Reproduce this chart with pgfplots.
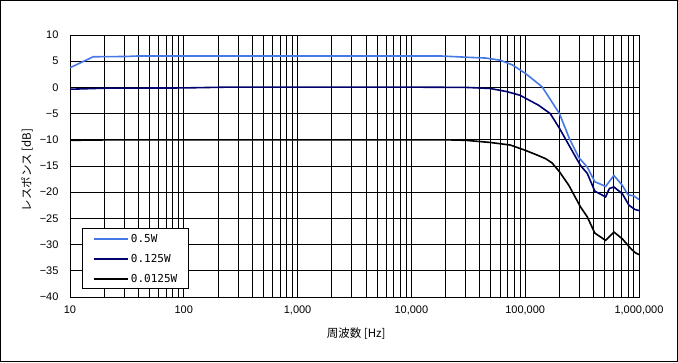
\documentclass[border=0pt]{standalone}
\usepackage{pgfplots}
\pgfplotsset{compat=1.18}
\usepackage{fontspec}
\setmainfont{Liberation Sans}
\newfontfamily\jp{Noto Sans CJK JP}
\newfontfamily\lgmono{DejaVu Sans Mono}
\definecolor{c1}{RGB}{70,120,230}
\definecolor{c2}{RGB}{0,0,110}
\begin{document}
\begin{tikzpicture}
\useasboundingbox (0pt,0pt) rectangle (678pt,362pt);
\draw[line width=1pt] (0.5pt,0.5pt) rectangle (677.5pt,361.5pt);
\begin{axis}[
 at={(70pt,65pt)}, anchor=south west,
 scale only axis, width=569pt, height=262pt,
 xmode=log, log basis x=10, xmin=10, xmax=1000000,
 ymin=-40, ymax=10,
 xtick={10,100,1000,10000,100000,1000000},
 minor xtick={20,30,40,50,60,70,80,90,
   200,300,400,500,600,700,800,900,
   2000,3000,4000,5000,6000,7000,8000,9000,
   20000,30000,40000,50000,60000,70000,80000,90000,
   200000,300000,400000,500000,600000,700000,800000,900000},
 xticklabels={10,100,{1,000},{10,000},{100,000},{1,000,000}},
 ytick={-40,-35,...,10},
 yticklabels={−40,−35,−30,−25,−20,−15,−10,−5,0,5,10},
 grid=both,
 major grid style={black, line width=0.9pt},
 minor grid style={black, line width=0.9pt},
 tick style={draw=none},
 axis line style={black, line width=0.9pt},
 ticklabel style={font=\fontsize{11}{13}\selectfont},
 xticklabel style={yshift=-5pt},
 yticklabel style={xshift=-8pt},
 xlabel={\jp 周波数 [Hz]}, ylabel={\jp レスポンス [dB]},
 label style={font=\fontsize{11.5}{13}\selectfont},
 xlabel style={at={(axis description cs:0.503,-0.141)}, anchor=center},
 ylabel style={at={(axis description cs:-0.0756,0.485)}, anchor=center},
 legend style={at={(axis description cs:0.0206,0.0294)}, anchor=south west,
   draw=black, fill=white, line width=0.9pt,
   font=\lgmono\fontsize{11}{13}\selectfont,
   inner xsep=11pt, inner ysep=6pt,
   nodes={inner sep=0pt, text height=8pt, text depth=0pt},
   row sep=12pt,
   /tikz/every odd column/.append style={column sep=2pt}},
 legend cell align=left,
 legend image code/.code={\path (-7pt,0pt) -- (27pt,0pt); \draw[#1,line width=2pt] (0pt,0pt) -- (27pt,0pt);},
]
\addplot[c1, line width=1.6pt] coordinates {
(10,3.75) (16,5.85) (31,5.9) (40,6.0) (1000,6.0) (10000,6.0) (18000,6.0)
(31000,5.75) (45000,5.6) (60000,5.2) (77000,4.3) (100000,2.7) (141000,0.1)
(200000,-5.0) (245000,-9.8) (296000,-13.4) (351000,-15.2) (409000,-18.0)
(509000,-18.9) (602000,-16.8) (714000,-18.7) (800000,-20.5) (900000,-20.7)
(1000000,-21.4)};
\addlegendentry{0.5W}
\addplot[c2, line width=1.6pt] coordinates {
(10,-0.35) (20,-0.15) (100,-0.1) (240,0.05) (10000,0.05) (30000,0.0)
(49000,-0.2) (69000,-0.8) (90000,-1.5) (131000,-3.4) (166000,-5.0)
(200000,-7.8) (242000,-11.0) (306000,-14.9) (351000,-16.4) (409000,-19.8)
(509000,-20.9) (549000,-19.3) (602000,-19.0) (714000,-20.3) (817000,-22.5)
(922000,-23.3) (1000000,-23.5)};
\addlegendentry{0.125W}
\addplot[black, line width=1.6pt] coordinates {
(10,-10.1) (25,-10.0) (20000,-10.0) (30000,-10.1) (49000,-10.5) (74000,-11.0)
(100000,-12.0) (127000,-12.9) (151000,-13.6) (172000,-14.4) (200000,-16.1)
(242000,-18.7) (306000,-22.8) (351000,-24.7) (409000,-27.8) (509000,-29.2)
(602000,-27.6) (714000,-28.9) (850000,-30.8) (935000,-31.6) (1000000,-31.9)};
\addlegendentry{0.0125W}
\end{axis}
\end{tikzpicture}
\end{document}
